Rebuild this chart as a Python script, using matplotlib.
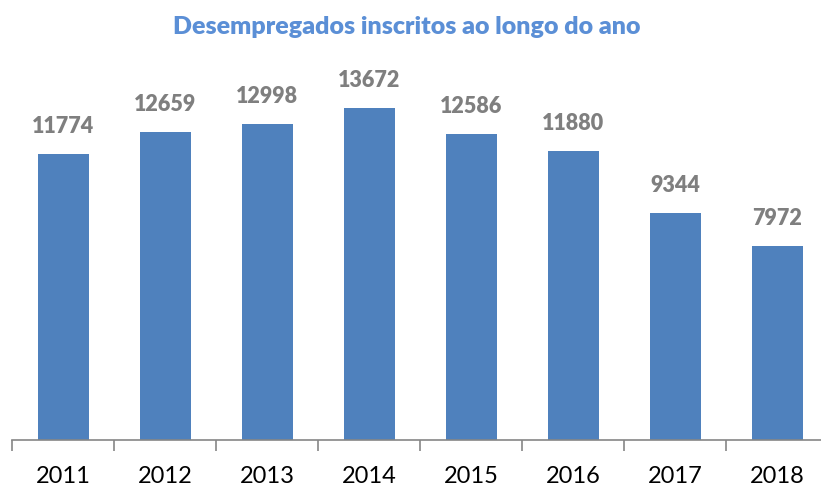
import matplotlib
matplotlib.use("Agg")
import matplotlib.pyplot as plt
import numpy as np

years = ["2011", "2012", "2013", "2014", "2015", "2016", "2017", "2018"]
values = [11774, 12659, 12998, 13672, 12586, 11880, 9344, 7972]

plt.rcParams['font.family'] = ['Lato', 'DejaVu Sans']

fig = plt.figure(figsize=(8.21, 4.86), dpi=100)
ax = fig.add_axes([12/821, 46.5/486, 816/821, (439.5-51.5)/486])

x = np.arange(len(years))
ax.bar(x, values, width=0.5, color="#4F81BD", zorder=2)
ax.set_xlim(-0.5, len(years) - 0.5)
ax.set_ylim(0, 16000 * (388/388.5))

for xi, v in zip(x, values):
    ax.annotate(str(v), (xi, v), xytext=(0, 12), textcoords="offset points",
                ha="center", va="bottom", fontsize=15.5, fontweight="heavy", color="#7F7F7F")

for s in ["top", "right", "left"]:
    ax.spines[s].set_visible(False)
ax.spines["bottom"].set_color("#868686")
ax.spines["bottom"].set_linewidth(1.2)
ax.set_yticks([])
ax.set_xticks(x)
ax.set_xticklabels(years, fontsize=17, color="#000000")
ax.tick_params(axis="x", which="major", length=0, pad=19)
ax.set_xticks(np.arange(-0.5, len(years)), minor=True)
ax.tick_params(axis="x", which="minor", length=8, width=1.2, color="#868686", direction="out")

fig.text(0.5 * (175 + 638) / 821, 1 - 27/486, "Desempregados inscritos ao longo do ano", ha="center", va="center",
         fontsize=18, fontweight="heavy", color="#5B8FD6")

fig.savefig("out.png", dpi=100)
